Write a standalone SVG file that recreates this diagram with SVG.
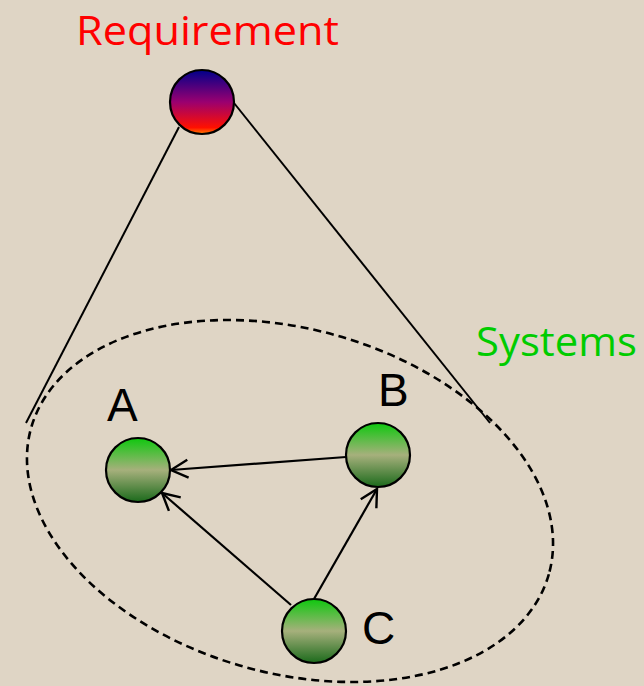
<svg xmlns="http://www.w3.org/2000/svg" width="644" height="686" viewBox="0 0 644 686">
<defs>
<style>
.lbl{font-family:"Liberation Sans",Arial,sans-serif;font-size:46px;fill:#000}
.title{font-family:"Open Sans","Liberation Sans",sans-serif;font-size:41px}
.node{stroke:#000;stroke-width:2.2;fill:url(#gGreen)}
.conn{stroke:#000;stroke-width:2;fill:none}
.arrow{stroke-width:2.2;marker-end:url(#open)}
</style>
<linearGradient id="gGreen" x1="0" y1="0" x2="0" y2="1">
<stop offset="0" stop-color="#0ec80e"/>
<stop offset="0.5" stop-color="#a6b07c"/>
<stop offset="1" stop-color="#1b6a1b"/>
</linearGradient>
<linearGradient id="gReq" x1="0" y1="0" x2="0" y2="1">
<stop offset="0" stop-color="#00008a"/>
<stop offset="0.5" stop-color="#9a0070"/>
<stop offset="0.9" stop-color="#ff1000"/>
<stop offset="1" stop-color="#ff8000"/>
</linearGradient>
<marker id="open" viewBox="-20 -12 22 24" refX="0" refY="0" markerWidth="22" markerHeight="24" markerUnits="userSpaceOnUse" orient="auto">
<path d="M-17,-9 L0,0 L-17,9" fill="none" stroke="#000" stroke-width="2.4"/>
</marker>
</defs>
<rect width="644" height="686" fill="#dfd5c5"/>
<g id="connectors">
<line class="conn" x1="179" y1="127" x2="26" y2="423"/>
<line class="conn" x1="234" y1="103" x2="490" y2="423"/>
<ellipse cx="290" cy="501" rx="269" ry="172" transform="rotate(15.8 290 501)" fill="none" stroke="#000" stroke-width="2.6" stroke-dasharray="8 5"/>
<line class="conn arrow" x1="346" y1="457" x2="171" y2="470"/>
<line class="conn arrow" x1="291" y1="605" x2="162" y2="493"/>
<line class="conn arrow" x1="314" y1="599" x2="377" y2="489"/>
</g>
<g id="requirement">
<circle cx="202" cy="102" r="32" fill="url(#gReq)" stroke="#000" stroke-width="2.2"/>
<text class="title" x="76" y="45" fill="#ff0000" textLength="263" lengthAdjust="spacingAndGlyphs">Requirement</text>
</g>
<g id="systems">
<text class="title" x="476" y="356" fill="#00cc00" textLength="161" lengthAdjust="spacingAndGlyphs">Systems</text>
</g>
<g id="nodeA">
<circle class="node" cx="138" cy="470" r="32"/>
<text class="lbl" x="107" y="421">A</text>
</g>
<g id="nodeB">
<circle class="node" cx="378" cy="455" r="32"/>
<text class="lbl" x="378" y="406">B</text>
</g>
<g id="nodeC">
<circle class="node" cx="314" cy="631" r="32"/>
<text class="lbl" x="362" y="644">C</text>
</g>
</svg>
